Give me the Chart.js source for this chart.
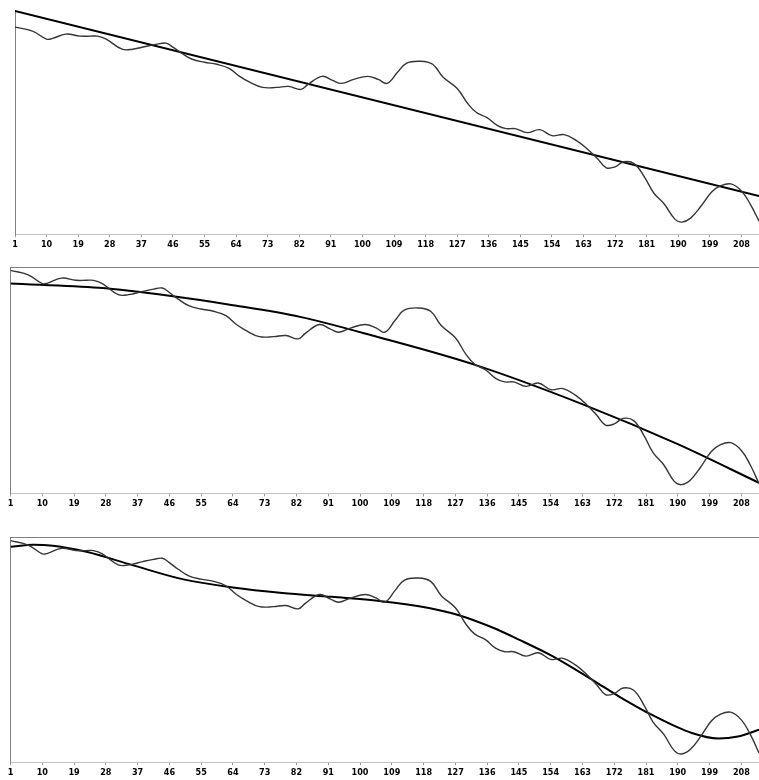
<!DOCTYPE html>
<html>
<head>
<meta charset="utf-8">
<script src="https://cdn.jsdelivr.net/npm/chart.js@4.4.0/dist/chart.umd.min.js"></script>
<style>
  html, body { margin: 0; padding: 0; background: #fff; }
  body { width: 759px; height: 780px; position: relative; overflow: hidden; }
  .panel { position: absolute; left: 0; width: 759px; }
  #panel1 { top: 0; height: 255px; }
  #panel2 { top: 257px; height: 263px; }
  #panel3 { top: 527px; height: 253px; }
</style>
</head>
<body>
<div class="panel" id="panel1"><canvas id="grafica1"></canvas></div>
<div class="panel" id="panel2"><canvas id="grafica2"></canvas></div>
<div class="panel" id="panel3"><canvas id="grafica3"></canvas></div>
<script>
// Etiquetas del eje X (cada 9 muestras)
const etiquetasX = [1, 10, 19, 28, 37, 46, 55, 64, 73, 82, 91, 100, 109, 118, 127, 136, 145, 154, 163, 172, 181, 190, 199, 208];

// Serie original (posición de la muestra y valor)
const posiciones = [1, 6, 10, 11.5, 15.5, 19.5, 22.5, 24.5, 27, 31.5, 34.5, 38.5, 41.5, 44, 46, 48.5, 51.5, 55, 58.5, 62,
    65, 68, 71.5, 75.5, 79, 82.5, 84.5, 88.5, 91.5, 94, 97.5, 101.5, 104.5, 107, 110, 112.5, 116.5, 120, 123, 127,
    130, 132.5, 135.5, 138.5, 141, 143.5, 147, 150.5, 154, 157.5, 161, 164, 167, 169.5, 172, 174.5, 177.5, 180.5, 183, 186,
    189, 191, 193.5, 196.5, 199.5, 202, 205, 208, 210.5, 213];
const valores = [206, 202, 194, 194.5, 199, 197, 197, 197, 194, 184, 184, 187, 189, 190, 186, 180, 174, 171, 169, 165,
    157, 151, 146, 146, 147, 144, 149, 157, 153, 150, 154, 157, 154, 150, 161, 170, 172, 169, 156, 145,
    130, 121, 116, 108, 105, 105, 101, 104, 98, 99, 93, 85, 75, 66, 67, 72, 70, 56, 41, 30,
    15, 12, 16, 28, 42, 48, 50, 43, 30, 13];

// Ajuste lineal
const posLineal = [1, 213];
const valLineal = [222, 38];

// Ajuste de segundo grado
const posCuadratico = [1, 26, 46, 64, 83, 105, 133, 164, 190, 213];
const valCuadratico = [194.2, 190.2, 183, 174.5, 163.9, 145.7, 120, 83.6, 48.7, 13.7];

// Ajuste de grado superior
const posCubico = [1, 7.5, 13, 22.5, 35.5, 50, 64, 78, 92, 105.5, 119.5, 128, 137.5, 145, 154.5, 166, 173.5, 183, 194, 201.5, 207, 213];
const valCubico = [200.5, 202.3, 201.4, 195.9, 183.8, 170.8, 163.5, 158.5, 154.9, 151.2, 144.8, 138.2, 127, 116, 101, 79, 64, 47, 31, 26, 27.8, 34];

const puntos = (xs, ys) => xs.map((x, i) => ({ x: x, y: ys[i] }));

function crearGrafica(id, ajuste, yMin, yMax, padding, bordeSuperior) {
    const escalas = {
        x: {
            type: 'linear',
            min: 1,
            max: 213,
            afterBuildTicks: (eje) => { eje.ticks = etiquetasX.map(v => ({ value: v })); },
            grid: { display: true, drawOnChartArea: false, drawTicks: true, tickLength: 3, color: '#9a9a9a' },
            border: { display: true, color: '#c4c4c4', width: 1 },
            ticks: {
                autoSkip: false,
                maxRotation: 0,
                padding: 2,
                color: '#000',
                font: { family: '"Liberation Sans Narrow", "DejaVu Sans Condensed", Arial', size: 9, weight: 'bold' }
            }
        },
        y: {
            min: yMin,
            max: yMax,
            grid: { display: false, drawTicks: false },
            border: { display: true, color: '#808080', width: 1 },
            ticks: { display: false }
        }
    };
    if (bordeSuperior) {
        escalas.arriba = {
            type: 'linear',
            position: 'top',
            display: true,
            grid: { display: false, drawTicks: false },
            border: { display: true, color: '#808080', width: 1 },
            ticks: { display: false }
        };
    }
    return new Chart(document.querySelector(id), {
        type: 'line',
        data: {
            datasets: [
                {
                    data: puntos(posiciones, valores),
                    borderColor: '#353535',
                    borderWidth: 1.4,
                    tension: 0.4,
                    pointRadius: 0
                },
                {
                    data: ajuste,
                    borderColor: '#000',
                    borderWidth: 2,
                    cubicInterpolationMode: 'monotone',
                    pointRadius: 0
                }
            ]
        },
        options: {
            responsive: true,
            maintainAspectRatio: false,
            animation: false,
            layout: { padding: padding },
            plugins: { legend: { display: false }, tooltip: { enabled: false } },
            scales: escalas
        }
    });
}

crearGrafica('#grafica1', puntos(posLineal, valLineal), 0, 223, { top: 10, left: 15, right: 0, bottom: 3 }, false);
crearGrafica('#grafica2', puntos(posCuadratico, valCuadratico), 4, 208.6, { top: 10.5, left: 10.5, right: 0, bottom: 8.7 }, true);
crearGrafica('#grafica3', puntos(posCubico, valCubico), 4.5, 208.9, { top: 10.5, left: 10.5, right: 0, bottom: 0 }, true);
</script>
</body>
</html>
